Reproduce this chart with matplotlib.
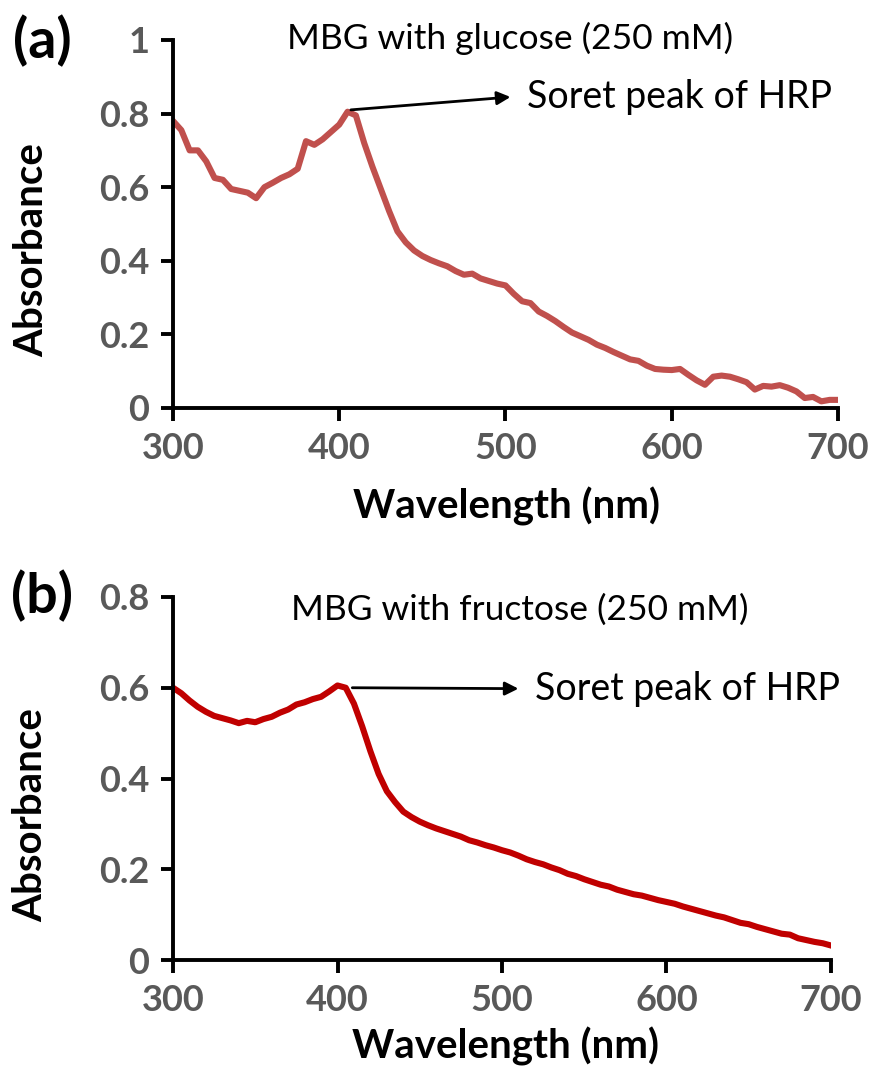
import numpy as np
import matplotlib
matplotlib.use('Agg')
import matplotlib.pyplot as plt

# wavelength grid (nm), every 5 nm
wavelength = list(range(300, 705, 5))

# (a) MBG with glucose
abs_glucose = [
    0.780, 0.755, 0.700, 0.700, 0.670, 0.625, 0.620, 0.595, 0.590, 0.585,
    0.570, 0.600, 0.612, 0.625, 0.635, 0.650, 0.725, 0.715, 0.730, 0.750,
    0.770, 0.805, 0.795, 0.720, 0.655, 0.595, 0.535, 0.480, 0.450, 0.428,
    0.413, 0.402, 0.393, 0.385, 0.372, 0.362, 0.365, 0.352, 0.345, 0.338,
    0.333, 0.310, 0.290, 0.285, 0.262, 0.250, 0.236, 0.220, 0.205, 0.195,
    0.185, 0.172, 0.163, 0.152, 0.142, 0.132, 0.128, 0.115, 0.106, 0.104,
    0.103, 0.106, 0.090, 0.075, 0.063, 0.085, 0.088, 0.085, 0.078, 0.070,
    0.050, 0.060, 0.058, 0.062, 0.055, 0.045, 0.027, 0.030, 0.018, 0.022,
    0.022,
]

# (b) MBG with fructose
abs_fructose = [
    0.600, 0.588, 0.572, 0.558, 0.547, 0.538, 0.533, 0.528, 0.522, 0.527,
    0.524, 0.531, 0.536, 0.545, 0.552, 0.563, 0.568, 0.575, 0.580, 0.592,
    0.605, 0.600, 0.565, 0.515, 0.460, 0.410, 0.372, 0.348, 0.327, 0.315,
    0.305, 0.297, 0.290, 0.284, 0.278, 0.272, 0.264, 0.259, 0.253, 0.248,
    0.242, 0.237, 0.230, 0.222, 0.216, 0.211, 0.204, 0.198, 0.190, 0.185,
    0.178, 0.172, 0.166, 0.162, 0.155, 0.150, 0.145, 0.142, 0.137, 0.132,
    0.128, 0.124, 0.118, 0.113, 0.108, 0.103, 0.098, 0.094, 0.088, 0.082,
    0.079, 0.073, 0.068, 0.063, 0.058, 0.056, 0.048, 0.044, 0.040, 0.037,
    0.032,
]

x_ticks = [300, 400, 500, 600, 700]
y_ticks_a = [0, 0.2, 0.4, 0.6, 0.8, 1]
y_ticks_b = [0, 0.2, 0.4, 0.6, 0.8]

tick_color = '#595959'
font = 'Lato'

fig = plt.figure(figsize=(8.76, 10.77), dpi=100)
ax1 = fig.add_axes([0.1975, 0.6212, 0.7591, 0.3417])
ax2 = fig.add_axes([0.1975, 0.1086, 0.7511, 0.3371])


def style_axis(ax, yticks, ylim, xlab_pos, ylab_pos):
    ax.set_xlim(300, 700)
    ax.set_ylim(*ylim)
    ax.set_xticks(x_ticks)
    ax.set_yticks(yticks)
    ax.set_yticklabels(['0' if v == 0 else ('1' if v == 1 else f'{v:.1f}') for v in yticks])
    ax.spines['top'].set_visible(False)
    ax.spines['right'].set_visible(False)
    ax.spines['left'].set_linewidth(2.8)
    ax.spines['bottom'].set_linewidth(2.8)
    ax.tick_params(direction='out', length=9, width=2.8, pad=8,
                   labelsize=26, labelcolor=tick_color)
    for lab in ax.get_xticklabels() + ax.get_yticklabels():
        lab.set_fontfamily(font)
        lab.set_fontweight('bold')
    ax.set_xlabel('Wavelength (nm)', fontsize=29, fontweight='bold', family=font)
    ax.set_ylabel('Absorbance', fontsize=29, fontweight='bold', family=font)
    ax.xaxis.set_label_coords(*xlab_pos)
    ax.yaxis.set_label_coords(*ylab_pos)


# panel (a)
ax1.plot(wavelength, abs_glucose, color='#C0504D', lw=4.4, solid_joinstyle='round')
style_axis(ax1, y_ticks_a, (0, 1), (0.502, -0.214), (-0.184, 0.43))
ax1.text(503, 1.005, 'MBG with glucose (250 mM)', fontsize=25.5, family=font,
         ha='center', va='center')
ax1.annotate('', xy=(503, 0.845), xytext=(407, 0.81),
             arrowprops=dict(arrowstyle='-|>', color='black', lw=2,
                             mutation_scale=20, shrinkA=0, shrinkB=0))
ax1.text(513, 0.845, 'Soret peak of HRP', fontsize=27, family=font,
         ha='left', va='center')
fig.text(0.048, 0.962, '(a)', fontsize=40, fontweight='bold', family=font,
         ha='center', va='center')

# panel (b)
ax2.plot(wavelength, abs_fructose, color='#C00000', lw=4.4, solid_joinstyle='round')
style_axis(ax2, y_ticks_b, (0, 0.8), (0.505, -0.184), (-0.188, 0.40))
ax2.text(511, 0.771, 'MBG with fructose (250 mM)', fontsize=25.5, family=font,
         ha='center', va='center')
ax2.annotate('', xy=(510, 0.598), xytext=(409, 0.600),
             arrowprops=dict(arrowstyle='-|>', color='black', lw=2,
                             mutation_scale=20, shrinkA=0, shrinkB=0))
ax2.text(520, 0.597, 'Soret peak of HRP', fontsize=27, family=font,
         ha='left', va='center')
fig.text(0.048, 0.447, '(b)', fontsize=40, fontweight='bold', family=font,
         ha='center', va='center')

fig.savefig('out.png', dpi=100, facecolor='white')
plt.close(fig)
